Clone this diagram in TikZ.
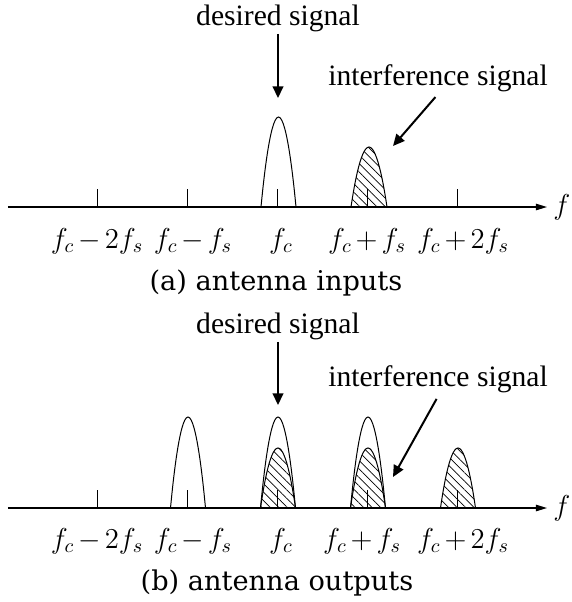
\documentclass[tikz,border=0pt]{standalone}
\usepackage{fontspec}
\setmainfont{Liberation Serif}
\newfontfamily\captionfont{DejaVu Serif}
\usepackage{tikz}
\usetikzlibrary{arrows.meta, patterns.meta, positioning}
\medmuskip=2.5mu plus 1mu minus 2mu

\begin{document}
\begin{tikzpicture}[x=0.5pt, y=-0.5pt,
    axis/.style={-{Triangle[length=5.5pt,width=3.2pt]}, line width=0.6pt},
    pointer/.style={-{Triangle[length=5.8pt,width=5.3pt]}, line width=1pt},
    lobe/.style={line width=0.5pt},
    hatched/.style={lobe, pattern={Lines[angle=-45, distance=3pt, line width=0.35pt]}},
    tickmark/.style={line width=0.5pt},
    note/.style={font=\fontsize{14.8}{17}\selectfont, inner sep=0pt, anchor=base},
    freq/.style={font=\fontsize{14.4}{16}\selectfont, inner sep=0pt, anchor=base},
    caption/.style={font=\captionfont\fontsize{13.6}{16}\selectfont, inner sep=0pt, anchor=base},
]
\useasboundingbox (0,0) rectangle (572,602);

% (a) antenna inputs
\coordinate (axA0) at (8,207);
\coordinate (axA1) at (547,207);
\draw[axis] (axA0) -- (axA1);
\node[freq, right=3pt of axA1] (fA) {$f$};

\draw[lobe] (261,207) parabola bend (278.5,117) (296,207);
\draw[hatched] (351,207) parabola bend (369,147) (387,207) -- cycle;

\foreach \k in {0,...,4}
  \draw[tickmark] (98+90*\k,207) -- ++(0,-18);
\foreach \x/\txt [count=\k from 0] in {97/f_c - 2f_s, 193/f_c - f_s, 281/f_c, 367/f_c + f_s, 463/f_c + 2f_s}
  \node[freq] (lblA\k) at (\x,248) {$\txt$};

\node[note] (dsA) at (278,25) {desired signal};
\coordinate (dsAtip) at (278,98);
\draw[pointer, shorten <=1pt] (dsA.south) -- (dsAtip);

\node[note] (isA) at (438,85) {interference signal};
\coordinate (isAtip) at (393,146);
\draw[pointer, shorten <=3.5pt] ([xshift=1pt]isA.south) -- (isAtip);

\node[caption] (capA) at (276,290) {(a) antenna inputs};

% (b) antenna outputs
\coordinate (axB0) at (8,508);
\coordinate (axB1) at (547,508);
\draw[axis] (axB0) -- (axB1);
\node[freq, right=3pt of axB1] (fB) {$f$};

\foreach \c in {188,278,368}
  \draw[lobe] (\c-17.5,508) parabola bend (\c,417) (\c+17.5,508);
\foreach \c in {278,368,458}
  \draw[hatched] (\c-17.5,508) parabola bend (\c,448) (\c+17.5,508) -- cycle;

\foreach \k in {0,...,4}
  \draw[tickmark] (98+90*\k,508) -- ++(0,-18);
\foreach \x/\txt [count=\k from 0] in {97/f_c - 2f_s, 193/f_c - f_s, 281/f_c, 362/f_c + f_s, 463/f_c + 2f_s}
  \node[freq] (lblB\k) at (\x,548) {$\txt$};

\node[note] (dsB) at (278,333) {desired signal};
\coordinate (dsBtip) at (278,405);
\draw[pointer, shorten <=1pt] (dsB.south) -- (dsBtip);

\node[note] (isB) at (438,386) {interference signal};
\coordinate (isBtip) at (393,477);
\draw[pointer, shorten <=3.5pt] ([xshift=1pt]isB.south) -- (isBtip);

\node[caption] (capB) at (277,590) {(b) antenna outputs};
\end{tikzpicture}
\end{document}
